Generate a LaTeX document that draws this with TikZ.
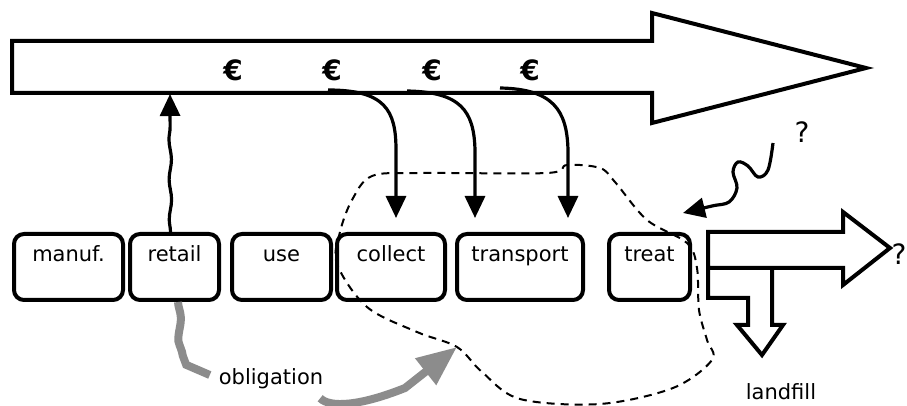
\documentclass[tikz,border=0pt]{standalone}
\usepackage{fontspec}
\setmainfont{DejaVu Sans}
\usetikzlibrary{arrows.meta,positioning,decorations.pathmorphing}
\definecolor{obgray}{HTML}{8C8C8C}
\tikzset{
  stage/.style={draw,line width=2pt,rounded corners=5pt,minimum height=33pt,inner xsep=2pt,inner ysep=0pt,text height=14pt,text depth=19pt,font=\fontsize{10.5}{12}\selectfont},
  pay/.style={line width=1.6pt,-{Triangle[length=11pt,width=10pt]}},
  oblig/.style={obgray,line width=4pt},
  euro/.style={font=\fontsize{14}{16}\selectfont\bfseries},
  lbl/.style={font=\fontsize{10.5}{12}\selectfont},
  hollow/.style={draw,line width=2pt,fill=white,miter limit=20}
}
\begin{document}
\begin{tikzpicture}[x=0.5pt,y=-0.5pt]
\useasboundingbox[fill=white] (0,0) rectangle (907,406);
\draw[hollow] (12,41)--(652,41)--(652,13)--(866,68)--(652,123)--(652,93)--(12,93)--cycle;
\foreach \x in {233,332,432,530}{\node[euro] (eur\x) at (\x,70) {€};}
\node[stage,minimum width=54.5pt,anchor=north west] (manuf) at (12,232) {manuf.};
\node[stage,minimum width=44.5pt,right=1.5pt of manuf] (retail) {retail};
\node[stage,minimum width=49.5pt,right=4.5pt of retail] (use) {use};
\node[stage,minimum width=54pt,right=1pt of use] (collect) {collect};
\node[stage,minimum width=63pt,right=4pt of collect] (transport) {transport};
\node[stage,minimum width=40.5pt,right=11pt of transport] (treat) {treat};
% money flows
\coordinate (tail) at (170,94);
\coordinate (e1) at (328,90);
\coordinate (e2) at (407,91);
\coordinate (e3) at (500,88);
\draw[pay,decorate,decoration={snake,amplitude=.6pt,segment length=20pt,post length=12pt}] ([xshift=-2pt]retail.north) -- (tail);
\draw[pay,shorten >=7pt] (e1) .. controls (385,90) and (396,110) .. ([xshift=2.5pt,yshift=41pt]collect.north) -- ([xshift=2.5pt]collect.north);
\draw[pay,shorten >=7pt] (e2) .. controls (460,92) and (474,110) .. ([xshift=-22.5pt,yshift=41pt]transport.north) -- ([xshift=-22.5pt]transport.north);
\draw[pay,shorten >=7pt] (e3) .. controls (553,89) and (567,110) .. ([xshift=24pt,yshift=41pt]transport.north) -- ([xshift=24pt]transport.north);
% scope of obligation
\draw[line width=1pt,dash pattern=on 4pt off 3pt] plot[smooth cycle,tension=.55] coordinates{(352,200)(340,232)(337,264)(367,307)(417,332)(457,347)(482,372)(520,399)(600,404)(673,388)(712,360)(707,340)(699,310)(697,268)(687,243)(647,220)(615,182)(600,168)(567,165)(547,173)(420,173)(372,176)};
\node[lbl] (obl) at (271,379) {obligation};
\coordinate (hit) at (457,347);
\draw[oblig,decorate,decoration={snake,amplitude=1pt,segment length=24pt,post length=14pt}] ([xshift=1.75pt]retail.south) .. controls (182,378) and (188,375) .. ([xshift=-1pt,yshift=2pt]obl.west);
\draw[oblig,-{Triangle[length=20pt,width=16pt]}] ([xshift=-5pt,yshift=-1pt]obl.south east) .. controls (330,408) and (360,406) .. (405,388) -- (hit);
% unknown input to treatment
\node[font=\fontsize{14}{16}\selectfont] (ask) at (802,132) {?};
\coordinate (qs) at (773,143);
\draw[pay] plot[smooth,tension=.6] coordinates{(qs)(768,170)(758,177)(748,166)(738,162)(733,172)(737,188)(729,202)(712,206)([shift={(-4.5pt,9.5pt)}]treat.north east)};
% outputs
\draw[hollow] (708,268)--(708,298)--(748,298)--(748,325)--(737,325)--(762,355)--(783,325)--(772,325)--(772,268);
\draw[hollow] (708,232)--(843,232)--(843,212)--(890,248)--(843,285)--(843,268)--(708,268)--cycle;
\node[font=\fontsize{14}{16}\selectfont] (ask2) at (899,254) {?};
\node[lbl] (landfill) at (781,392) {landfill};
\end{tikzpicture}
\end{document}
